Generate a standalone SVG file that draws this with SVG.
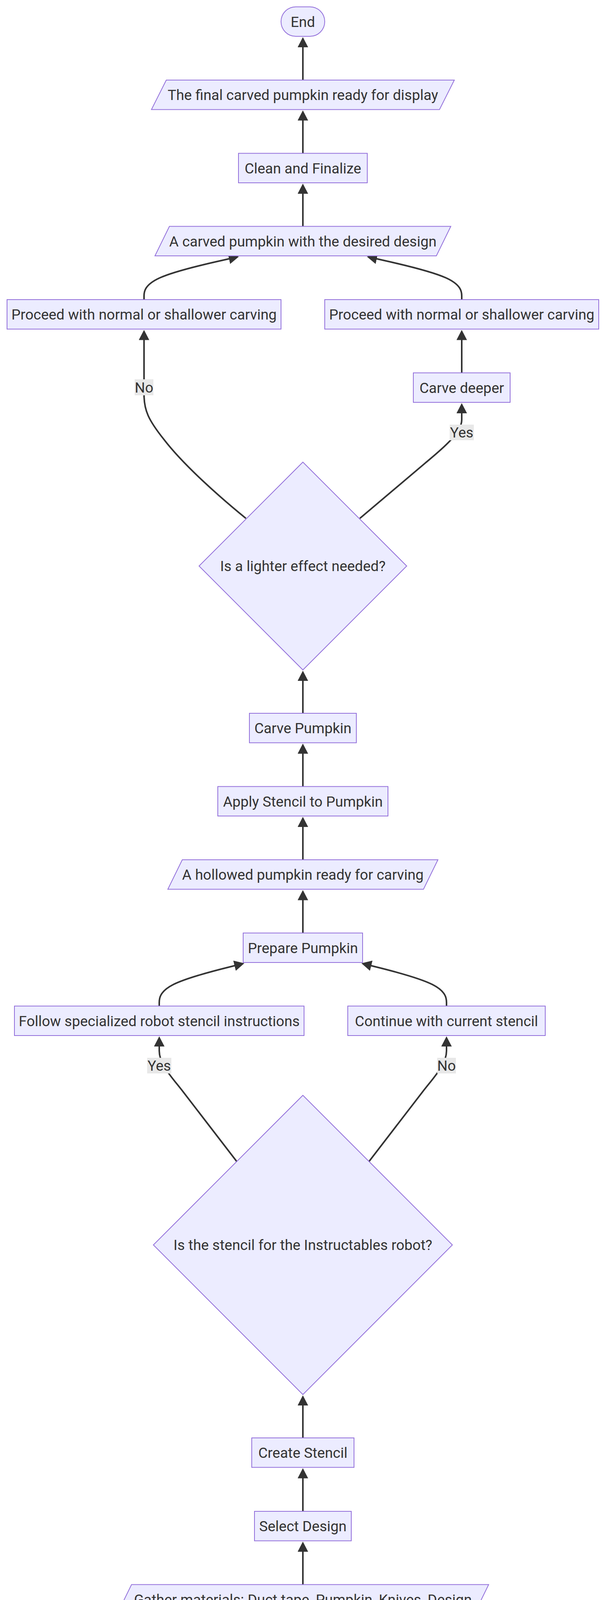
<svg xmlns="http://www.w3.org/2000/svg" width="1568" height="4382" viewBox="0 0 1568 4382">
<style>
.node{fill:#ECECFF;stroke:#9370DB;stroke-width:2}
.lbl{font-family:Roboto,"Liberation Sans",sans-serif;font-size:37px;fill:#333333;text-anchor:middle}
.edge{fill:none;stroke:#333333;stroke-width:4;marker-end:url(#arrow)}
.elbg{fill:#e8e8e8}
</style>
<defs>
<marker id="arrow" viewBox="0 0 26 27" refX="6" refY="13.5" markerWidth="26" markerHeight="27" markerUnits="userSpaceOnUse" orient="auto">
<path d="M0,0 L26,13.5 L0,27 z" fill="#333333"/>
</marker>
</defs>
<rect width="1568" height="4382" fill="#ffffff"/>
<g id="connectors">
<path class="edge" d="M776,205 L776,115"/>
<path class="edge" d="M776,392.5 L776,302.5"/>
<path class="edge" d="M776,579.5 L776,490"/>
<path class="edge" d="M369,767 L369,757.7 C369,748.3 369,729.7 409.5,711.3 C450,693 531,675 571.5,666 L592.5,661.3"/>
<path class="edge" d="M1183,767 L1183,757.7 C1183,748.3 1183,729.7 1142.5,711.3 C1102,693 1021,675 980.5,666 L959.5,661.3"/>
<path class="edge" d="M1183,954.5 L1183,864.5"/>
<path class="edge" d="M630,1327 C560,1270 470,1190 420,1125 C380,1075 369,1050 369,1010 L369,864.5"/>
<path class="edge" d="M922,1327 L1090,1185 C1124.4,1156 1183,1110 1183,1075 L1183,1052"/>
<path class="edge" d="M776,1826 L776,1737"/>
<path class="edge" d="M776,2013.5 L776,1923.5"/>
<path class="edge" d="M776,2201 L776,2111"/>
<path class="edge" d="M776,2388.5 L776,2298.5"/>
<path class="edge" d="M408,2575.5 L408,2566.7 C408,2557.3 408,2538.7 444.3,2520.3 C480.7,2502 553.3,2484 589.7,2475 L606.6,2470.8"/>
<path class="edge" d="M1144,2575.5 L1144,2566.7 C1144,2557.3 1144,2538.7 1107.7,2520.3 C1071.3,2502 998.7,2484 962.3,2475 L945.4,2470.8"/>
<path class="edge" d="M607,2974 L470,2796 C439.5,2756.5 408,2725 408,2690 L408,2673"/>
<path class="edge" d="M945,2974 L1082,2796 C1112.5,2756.5 1144,2725 1144,2690 L1144,2673"/>
<path class="edge" d="M776,3681 L776,3592"/>
<path class="edge" d="M776,3869 L776,3778.5"/>
<path class="edge" d="M776,4056.5 L776,3966.5"/>
<path class="edge" d="M776,4244 L776,4154"/>
</g>
<g id="edge-labels">
<g id="label-no-1"><rect class="elbg" x="345" y="971" width="48" height="41"/><text class="lbl" x="369" y="1004.5">No</text></g>
<g id="label-yes-1"><rect class="elbg" x="1152" y="1087" width="62" height="40"/><text class="lbl" x="1183" y="1120">Yes</text></g>
<g id="label-yes-2"><rect class="elbg" x="377" y="2708" width="62" height="40"/><text class="lbl" x="408" y="2741">Yes</text></g>
<g id="label-no-2"><rect class="elbg" x="1120" y="2708" width="48" height="40"/><text class="lbl" x="1144" y="2741">No</text></g>
</g>
<g id="end"><rect class="node" x="720" y="17.5" width="112" height="75.5" rx="37.75" ry="37.75"/><text class="lbl" x="776" y="68.5">End</text></g>
<g id="final"><polygon class="node" points="388,280.5 1126,280.5 1164,205 426,205"/><text class="lbl" x="776" y="256">The final carved pumpkin ready for display</text></g>
<g id="clean"><rect class="node" x="611" y="392.5" width="330" height="75.5"/><text class="lbl" x="776" y="443.5">Clean and Finalize</text></g>
<g id="carved"><polygon class="node" points="397,655 1118,655 1155,579.5 434,579.5"/><text class="lbl" x="776" y="630.5">A carved pumpkin with the desired design</text></g>
<g id="proceed-left"><rect class="node" x="18" y="767" width="702" height="75.5"/><text class="lbl" x="369" y="818">Proceed with normal or shallower carving</text></g>
<g id="proceed-right"><rect class="node" x="832" y="767" width="702" height="75.5"/><text class="lbl" x="1183" y="818">Proceed with normal or shallower carving</text></g>
<g id="carve-deeper"><rect class="node" x="1059" y="954.5" width="248" height="75.5"/><text class="lbl" x="1183" y="1005.5">Carve deeper</text></g>
<g id="lighter"><polygon class="node" points="776,1183 1042,1449 776,1715 510,1449"/><text class="lbl" x="776" y="1462">Is a lighter effect needed?</text></g>
<g id="carve-pumpkin"><rect class="node" x="639" y="1826" width="274" height="75.5"/><text class="lbl" x="776" y="1877">Carve Pumpkin</text></g>
<g id="apply"><rect class="node" x="558" y="2013.5" width="436" height="75.5"/><text class="lbl" x="776" y="2064.5">Apply Stencil to Pumpkin</text></g>
<g id="hollowed"><polygon class="node" points="430,2276.5 1085,2276.5 1122,2201 467,2201"/><text class="lbl" x="776" y="2252">A hollowed pumpkin ready for carving</text></g>
<g id="prepare"><rect class="node" x="623" y="2388.5" width="306" height="75.5"/><text class="lbl" x="776" y="2439.5">Prepare Pumpkin</text></g>
<g id="follow"><rect class="node" x="37" y="2575.5" width="742" height="75.5"/><text class="lbl" x="408" y="2626.5">Follow specialized robot stencil instructions</text></g>
<g id="continue"><rect class="node" x="891" y="2575.5" width="506" height="75.5"/><text class="lbl" x="1144" y="2626.5">Continue with current stencil</text></g>
<g id="robot"><polygon class="node" points="776,2804 1159,3187 776,3570 393,3187"/><text class="lbl" x="776" y="3200">Is the stencil for the Instructables robot?</text></g>
<g id="create"><rect class="node" x="645" y="3681" width="262" height="75.5"/><text class="lbl" x="776" y="3732">Create Stencil</text></g>
<g id="select"><rect class="node" x="652" y="3869" width="248" height="75.5"/><text class="lbl" x="776" y="3920">Select Design</text></g>
<g id="gather"><polygon class="node" points="300,4132 1215,4132 1252,4056.5 337,4056.5"/><text class="lbl" x="776" y="4107.5">Gather materials: Duct tape, Pumpkin, Knives, Design</text></g>
<g id="start"><rect class="node" x="710" y="4244" width="131" height="75.5" rx="37.75" ry="37.75"/><text class="lbl" x="776" y="4295">Start</text></g>
</svg>
